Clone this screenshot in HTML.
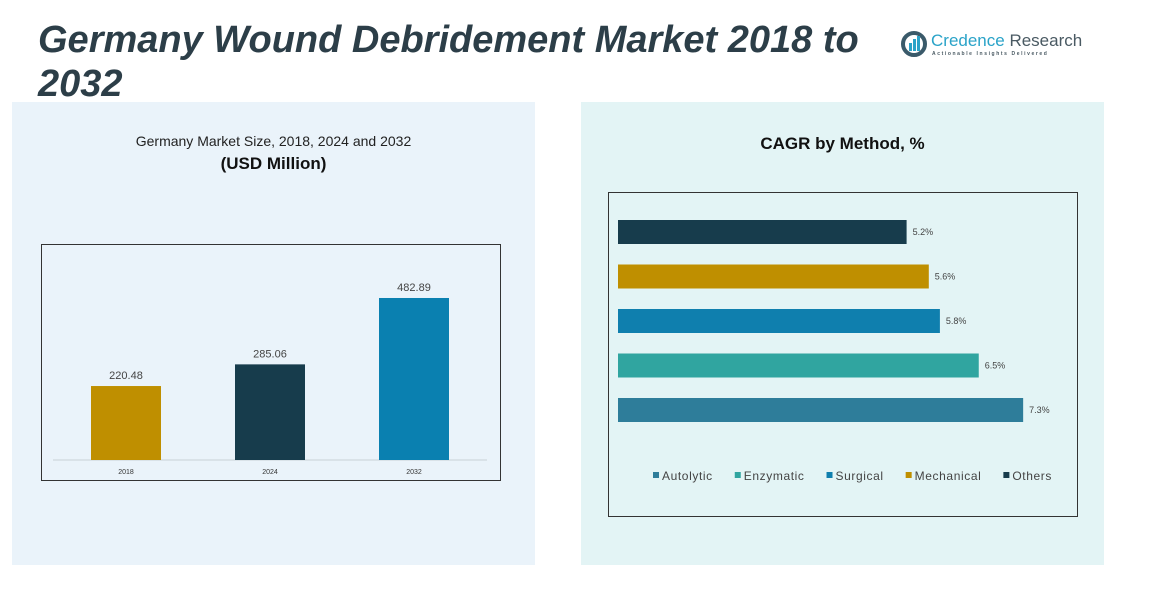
<!DOCTYPE html>
<html><head><meta charset="utf-8"><style>
body{margin:0;width:1176px;height:590px;background:#fff;position:relative;overflow:hidden;font-family:"Liberation Sans",sans-serif}
.abs{position:absolute}
</style></head><body>
<div class="abs" style="left:38px;top:18px;font-size:38px;font-weight:bold;font-style:italic;color:#2c3e48;line-height:44px;width:860px">Germany Wound Debridement Market 2018 to 2032</div>
<div class="abs" style="left:900px;top:30px;width:190px;height:30px">
<svg width="30" height="28" style="position:absolute;left:0;top:0"><circle cx="14" cy="14" r="11" fill="none" stroke="#3a5a6a" stroke-width="4"/><rect x="9" y="13" width="3" height="8" fill="#2aa3c8"/><rect x="13" y="9" width="3" height="12" fill="#2aa3c8"/><rect x="17" y="6" width="3" height="15" fill="#2aa3c8"/></svg>
<div class="abs" style="left:31px;top:1px;font-size:17px;color:#2aa3c8;white-space:nowrap">Credence <span style="color:#4a5a63">Research</span></div>
<div class="abs" style="left:32px;top:21px;font-size:5px;letter-spacing:1.6px;color:#4a5a63;white-space:nowrap;font-weight:bold">Actionable Insights Delivered</div>
</div>
<div class="abs" style="left:12px;top:102px;width:523px;height:463px;background:#eaf3fa"></div>
<div class="abs" style="left:581px;top:102px;width:523px;height:463px;background:#e3f4f5"></div>
<div class="abs" style="left:12px;top:133px;width:523px;text-align:center;font-size:14px;color:#222">Germany Market Size, 2018, 2024 and 2032</div>
<div class="abs" style="left:12px;top:154px;width:523px;text-align:center;font-size:17px;font-weight:bold;color:#111">(USD Million)</div>
<div class="abs" style="left:581px;top:134px;width:523px;text-align:center;font-size:17px;font-weight:bold;color:#111">CAGR by Method, %</div>
<svg class="abs" style="left:0;top:0" width="1176" height="590" id="svg"></svg>
<script>
const years=["2018","2024","2032"];
const sizes=[220.48,285.06,482.89];
const sizeColors=["#bf8f00","#173c4c","#0a80b0"];
const methods=["Others","Mechanical","Surgical","Enzymatic","Autolytic"];
const cagr=[5.2,5.6,5.8,6.5,7.3];
const methodColors=["#173c4c","#bf8f00","#0f7fae","#30a5a0","#2e7d9a"];
const legendOrder=["Autolytic","Enzymatic","Surgical","Mechanical","Others"];
const svg=document.getElementById('svg');const NS="http://www.w3.org/2000/svg";
function mk(t,a,txt){const e=document.createElementNS(NS,t);for(const k in a)e.setAttribute(k,a[k]);if(txt!=null)e.textContent=txt;svg.appendChild(e);return e;}
let f=mk('rect',{x:41.5,y:244.5,width:459,height:236,fill:'none',stroke:'#333','stroke-width':1});

let base=460;const ys=v=>base-v*0.3355;
let bl=mk('line',{x1:53,x2:487,y1:base,y2:base,stroke:'#c8d0d6'});

years.forEach((y,i)=>{const x=91+i*144;
let r=mk('rect',{x:x,y:ys(sizes[i]),width:70,height:base-ys(sizes[i]),fill:sizeColors[i]});

let t=mk('text',{x:x+35,y:ys(sizes[i])-7,'text-anchor':'middle','font-size':11,fill:'#444'},sizes[i].toFixed(2));

let l=mk('text',{x:x+35,y:474,'text-anchor':'middle','font-size':7,fill:'#333'},y);
});
let f2=mk('rect',{x:608.5,y:192.5,width:469,height:324,fill:'none',stroke:'#333','stroke-width':1});

const xs=v=>v*55.5;
methods.forEach((m,i)=>{const y=220+i*44.5;
let r=mk('rect',{x:618,y:y,width:xs(cagr[i]),height:24,fill:methodColors[i]});

let t=mk('text',{x:618+xs(cagr[i])+6,y:y+15,'font-size':9,fill:'#444'},cagr[i].toFixed(1)+'%');
});
let lx=653;legendOrder.forEach(m=>{const c=methodColors[methods.indexOf(m)];
let s=mk('rect',{x:lx,y:472,width:6,height:6,fill:c});

let t=mk('text',{x:lx+9,y:480,'font-size':12,fill:'#444','letter-spacing':0.6},m);

lx+=9+t.getComputedTextLength()+22;});
</script>
</body></html>
